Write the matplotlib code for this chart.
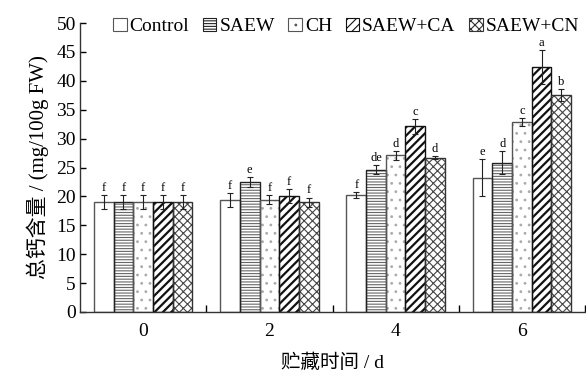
import matplotlib
matplotlib.use("Agg")
import matplotlib.pyplot as plt
from matplotlib.patches import Patch
import numpy as np

plt.rcParams['font.family'] = ['Liberation Serif', 'Noto Sans CJK SC', 'DejaVu Sans']

days = ['0', '2', '4', '6']
series = ['Control', 'SAEW', 'CH', 'SAEW+CA', 'SAEW+CN']
control = [19.0, 19.4, 20.2, 23.2]
saew = [19.0, 22.5, 24.6, 25.8]
ch = [19.0, 19.4, 27.1, 32.9]
saew_ca = [19.0, 20.0, 32.1, 42.4]
saew_cn = [19.0, 19.0, 26.7, 37.5]
err_control = [1.2, 1.2, 0.5, 3.2]
err_saew = [1.2, 0.8, 0.8, 2.0]
err_ch = [1.2, 0.8, 0.8, 0.7]
err_ca = [1.2, 1.2, 1.3, 2.9]
err_cn = [1.2, 0.8, 0.3, 1.0]
letters_control = ['f', 'f', 'f', 'e']
letters_saew = ['f', 'e', 'de', 'd']
letters_ch = ['f', 'f', 'd', 'c']
letters_ca = ['f', 'f', 'c', 'a']
letters_cn = ['f', 'f', 'd', 'b']

values = [control, saew, ch, saew_ca, saew_cn]
errs = [err_control, err_saew, err_ch, err_ca, err_cn]
letters = [letters_control, letters_saew, letters_ch, letters_ca, letters_cn]
hatches = ['', '------', '..', '////', 'xxxx']
hatchcols = ['#555555', '#666666', '#aaaaaa', '#111111', '#444444']
hatchlw = [0.8, 0.8, 0.8, 1.6, 0.8]
edgecols = ['#555555', '#222222', '#555555', '#111111', '#333333']

fig = plt.figure(figsize=(5.86, 3.72), dpi=100)
ax = fig.add_axes([80/586, 1 - 312/372, 505/586, (312-23)/372])

x = np.arange(len(days))
w = 0.156
handles = []
for i in range(5):
    pos = x + (i - 2) * w
    plt.rcParams['hatch.linewidth'] = hatchlw[i]
    ax.bar(pos, values[i], w, color='white', edgecolor=hatchcols[i],
           hatch=hatches[i], linewidth=0, zorder=2)
    ax.bar(pos, values[i], w, color='none', edgecolor=edgecols[i],
           linewidth=1.0, zorder=2.5)
    ax.errorbar(pos, values[i], yerr=errs[i], fmt='none', ecolor='#222222',
                elinewidth=0.8, capsize=2.5, capthick=0.8, zorder=3)
    for p, v, e, l in zip(pos, values[i], errs[i], letters[i]):
        ax.text(p, v + e + 0.2, l, ha='center', va='bottom', fontsize=9)
    handles.append(Patch(facecolor='white', edgecolor=edgecols[i], hatch=hatches[i],
                         linewidth=0.8, label=series[i]))

ax.set_xlim(-0.5, 3.5)
ax.set_ylim(0, 50)
ax.set_yticks(np.arange(0, 51, 5))
ax.set_xticks(x)
ax.set_xticklabels(days)
ax.set_xticks(np.arange(0.5, 4, 1), minor=True)
ax.tick_params(axis='x', which='major', length=0, labelsize=14, pad=8)
ax.tick_params(axis='x', which='minor', direction='in', length=5, width=1)
ax.tick_params(axis='y', direction='in', length=4, width=1, labelsize=14, pad=3)
for s in ['top', 'right']:
    ax.spines[s].set_visible(False)
for s in ['left', 'bottom']:
    ax.spines[s].set_linewidth(1.0)
    ax.spines[s].set_color('#333333')

ax.set_ylabel('总钙含量 / (mg/100g FW)', fontsize=15, labelpad=5)
ax.set_xlabel('贮藏时间 / d', fontsize=14, labelpad=10)

plt.rcParams['hatch.linewidth'] = 0.8
leg = ax.legend(handles=handles, loc='upper left', bbox_to_anchor=(0.05, 1.045), ncol=5,
                frameon=False, fontsize=14, handlelength=0.7, handleheight=0.7,
                handletextpad=0.15, columnspacing=0.7, borderaxespad=0)

fig.savefig('out.png', dpi=100)
